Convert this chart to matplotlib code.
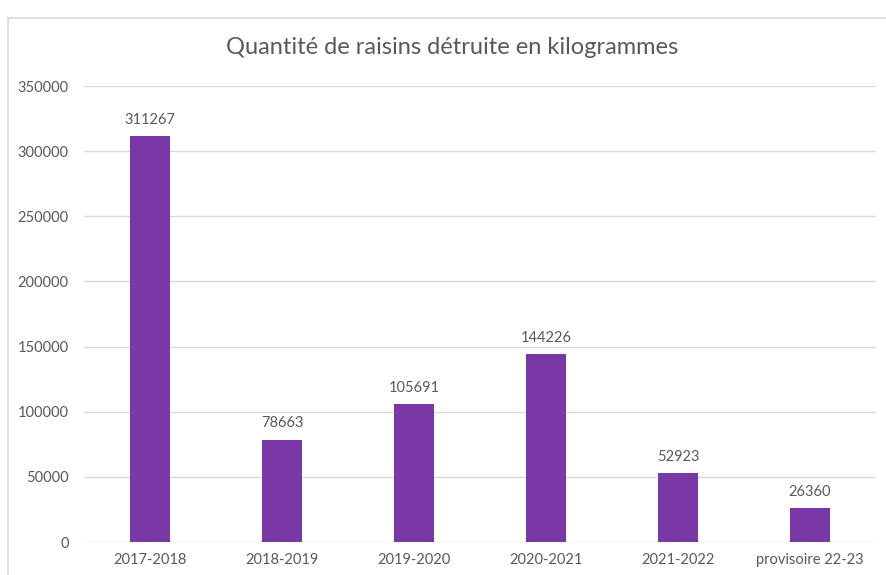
import matplotlib.pyplot as plt
from matplotlib.patches import Rectangle

# Data
categories = ["2017-2018", "2018-2019", "2019-2020", "2020-2021", "2021-2022", "provisoire 22-23"]
values = [311267, 78663, 105691, 144226, 52923, 26360]
yticks = [0, 50000, 100000, 150000, 200000, 250000, 300000, 350000]

BAR_COLOR = '#7A38A7'
TEXT_COLOR = '#595959'
GRID_COLOR = '#d9d9d9'
plt.rcParams['font.family'] = ['Lato', 'DejaVu Sans']

W, H = 886, 575
fig = plt.figure(figsize=(W / 100, H / 100), dpi=100, facecolor='white')

# chart-area frame (runs off the right and bottom edges)
fig.patches.append(Rectangle((7.5 / W, -0.1), 1.1, 1.1 - 18 / H,
                             transform=fig.transFigure, fill=False,
                             edgecolor=GRID_COLOR, linewidth=1.2))

ax = fig.add_axes([84 / W, 1 - 542 / H, 792 / W, 456 / H])
x = range(len(categories))
bars = ax.bar(x, values, width=0.31, color=BAR_COLOR, zorder=3)

for xi, v in zip(x, values):
    ax.text(xi, v + 7000, str(v), ha='center', va='bottom',
            fontsize=10.5, color=TEXT_COLOR)

ax.set_xlim(-0.5, len(categories) - 0.5)
ax.set_ylim(0, 350000)
ax.set_yticks(yticks)
ax.set_yticklabels([str(t) for t in yticks])
ax.set_xticks(list(x))
ax.set_xticklabels(categories)
ax.tick_params(axis='both', length=0, labelsize=10.5, labelcolor=TEXT_COLOR)
ax.tick_params(axis='y', pad=11)
ax.tick_params(axis='x', pad=8)

ax.yaxis.grid(True, color=GRID_COLOR, linewidth=1, zorder=0)
for s in ax.spines.values():
    s.set_visible(False)

fig.text(452 / W, 1 - 48 / H, "Quantité de raisins détruite en kilogrammes",
         ha='center', va='center', fontsize=17, color=TEXT_COLOR)

fig.savefig('out.png', dpi=100, facecolor='white')
